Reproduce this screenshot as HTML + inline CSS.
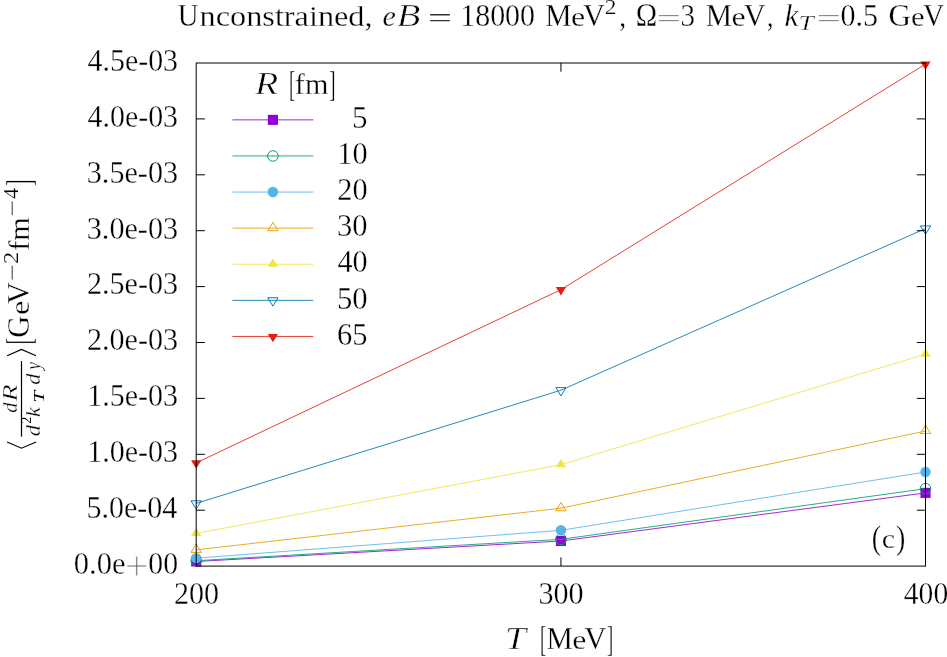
<!DOCTYPE html>
<html lang="en">
<head>
<meta charset="utf-8">
<title>Unconstrained, eB = 18000 MeV^2 - photon rate vs T</title>
<style>
html,body{margin:0;padding:0;background:#fff;}
body{width:947px;height:657px;overflow:hidden;}
svg{display:block;}
svg text{font-family:"Liberation Serif",serif;font-kerning:none;white-space:pre;}
.t{opacity:0.999;}
</style>
</head>
<body>
<svg width="947" height="657" viewBox="0 0 947 657">
<rect width="947" height="657" fill="#fff"/>
<g>
<path d="M232.40 119.85H313.30" stroke="#9400d3" stroke-width="0.85" fill="none"/>
<rect x="267.85" y="114.80" width="10.10" height="10.10" fill="#9400d3"/>
<polyline points="196.20,561.50 560.95,541.00 925.50,492.90" stroke="#9400d3" stroke-width="0.85" fill="none" stroke-linejoin="round"/>
<rect x="191.15" y="556.45" width="10.10" height="10.10" fill="#9400d3"/>
<rect x="555.90" y="535.95" width="10.10" height="10.10" fill="#9400d3"/>
<rect x="920.45" y="487.85" width="10.10" height="10.10" fill="#9400d3"/>
</g>
<g>
<path d="M232.40 155.95H313.30" stroke="#009e73" stroke-width="0.85" fill="none"/>
<circle cx="272.90" cy="155.95" r="5.30" fill="none" stroke="#009e73" stroke-width="1.00"/><circle cx="272.90" cy="155.95" r="0.45" fill="#009e73"/>
<polyline points="196.20,560.70 560.95,539.30 925.50,488.70" stroke="#009e73" stroke-width="0.85" fill="none" stroke-linejoin="round"/>
<circle cx="196.20" cy="560.70" r="5.30" fill="none" stroke="#009e73" stroke-width="1.00"/><circle cx="196.20" cy="560.70" r="0.45" fill="#009e73"/>
<circle cx="560.95" cy="539.30" r="5.30" fill="none" stroke="#009e73" stroke-width="1.00"/><circle cx="560.95" cy="539.30" r="0.45" fill="#009e73"/>
<circle cx="925.50" cy="488.70" r="5.30" fill="none" stroke="#009e73" stroke-width="1.00"/><circle cx="925.50" cy="488.70" r="0.45" fill="#009e73"/>
</g>
<g>
<path d="M232.40 192.05H313.30" stroke="#56b4e9" stroke-width="0.85" fill="none"/>
<circle cx="272.90" cy="192.05" r="5.25" fill="#56b4e9"/>
<polyline points="196.20,558.15 560.95,530.30 925.50,472.00" stroke="#56b4e9" stroke-width="0.85" fill="none" stroke-linejoin="round"/>
<circle cx="196.20" cy="558.15" r="5.25" fill="#56b4e9"/>
<circle cx="560.95" cy="530.30" r="5.25" fill="#56b4e9"/>
<circle cx="925.50" cy="472.00" r="5.25" fill="#56b4e9"/>
</g>
<g>
<path d="M232.40 228.15H313.30" stroke="#e69f00" stroke-width="0.85" fill="none"/>
<polygon points="272.90,222.38 267.75,230.72 278.05,230.72" fill="none" stroke="#e69f00" stroke-width="0.95" stroke-linejoin="miter"/><circle cx="272.90" cy="228.15" r="0.45" fill="#e69f00"/>
<polyline points="196.20,549.85 560.95,508.20 925.50,431.00" stroke="#e69f00" stroke-width="0.85" fill="none" stroke-linejoin="round"/>
<polygon points="196.20,544.08 191.05,552.43 201.35,552.43" fill="none" stroke="#e69f00" stroke-width="0.95" stroke-linejoin="miter"/><circle cx="196.20" cy="549.85" r="0.45" fill="#e69f00"/>
<polygon points="560.95,502.43 555.80,510.77 566.10,510.77" fill="none" stroke="#e69f00" stroke-width="0.95" stroke-linejoin="miter"/><circle cx="560.95" cy="508.20" r="0.45" fill="#e69f00"/>
<polygon points="925.50,425.23 920.35,433.57 930.65,433.57" fill="none" stroke="#e69f00" stroke-width="0.95" stroke-linejoin="miter"/><circle cx="925.50" cy="431.00" r="0.45" fill="#e69f00"/>
</g>
<g>
<path d="M232.40 264.25H313.30" stroke="#f0e442" stroke-width="0.85" fill="none"/>
<polygon points="272.90,258.48 267.75,266.82 278.05,266.82" fill="#f0e442"/>
<polyline points="196.20,533.40 560.95,464.70 925.50,354.20" stroke="#f0e442" stroke-width="0.85" fill="none" stroke-linejoin="round"/>
<polygon points="196.20,527.63 191.05,535.98 201.35,535.98" fill="#f0e442"/>
<polygon points="560.95,458.93 555.80,467.27 566.10,467.27" fill="#f0e442"/>
<polygon points="925.50,348.43 920.35,356.77 930.65,356.77" fill="#f0e442"/>
</g>
<g>
<path d="M232.40 300.35H313.30" stroke="#0072b2" stroke-width="0.85" fill="none"/>
<polygon points="272.90,306.12 267.75,297.78 278.05,297.78" fill="none" stroke="#0072b2" stroke-width="0.95" stroke-linejoin="miter"/><circle cx="272.90" cy="300.35" r="0.45" fill="#0072b2"/>
<polyline points="196.20,503.40 560.95,390.20 925.50,228.50" stroke="#0072b2" stroke-width="0.85" fill="none" stroke-linejoin="round"/>
<polygon points="196.20,509.17 191.05,500.82 201.35,500.82" fill="none" stroke="#0072b2" stroke-width="0.95" stroke-linejoin="miter"/><circle cx="196.20" cy="503.40" r="0.45" fill="#0072b2"/>
<polygon points="560.95,395.97 555.80,387.62 566.10,387.62" fill="none" stroke="#0072b2" stroke-width="0.95" stroke-linejoin="miter"/><circle cx="560.95" cy="390.20" r="0.45" fill="#0072b2"/>
<polygon points="925.50,234.27 920.35,225.93 930.65,225.93" fill="none" stroke="#0072b2" stroke-width="0.95" stroke-linejoin="miter"/><circle cx="925.50" cy="228.50" r="0.45" fill="#0072b2"/>
</g>
<g>
<path d="M232.40 336.45H313.30" stroke="#e51e10" stroke-width="0.85" fill="none"/>
<polygon points="272.90,342.22 267.75,333.88 278.05,333.88" fill="#e51e10"/>
<polyline points="196.20,462.90 560.95,289.65 925.50,64.10" stroke="#e51e10" stroke-width="0.85" fill="none" stroke-linejoin="round"/>
<polygon points="196.20,468.67 191.05,460.32 201.35,460.32" fill="#e51e10"/>
<polygon points="560.95,295.42 555.80,287.07 566.10,287.07" fill="#e51e10"/>
<polygon points="925.50,69.87 920.35,61.52 930.65,61.52" fill="#e51e10"/>
</g>
<g stroke="#000" stroke-width="1.00" fill="none" stroke-linecap="butt" stroke-linejoin="miter">
<rect x="196.20" y="63.00" width="729.30" height="503.10"/>
<path d="M196.20 510.20h8.70M925.50 510.20h-8.70M196.20 454.30h8.70M925.50 454.30h-8.70M196.20 398.40h8.70M925.50 398.40h-8.70M196.20 342.50h8.70M925.50 342.50h-8.70M196.20 286.60h8.70M925.50 286.60h-8.70M196.20 230.70h8.70M925.50 230.70h-8.70M196.20 174.80h8.70M925.50 174.80h-8.70M196.20 118.90h8.70M925.50 118.90h-8.70M560.95 566.10v-8.70M560.95 63.00v8.70"/>
</g>
<g class="t">
<text transform="translate(177.69 25.90) scale(0.9641 1.0400)" font-size="29.89" stroke="#fff" stroke-width="0.30">U</text>
<text transform="translate(199.56 25.90) scale(1.0804 0.9750)" font-size="29.89" stroke="#fff" stroke-width="0.30">nconstrained,</text>
<text transform="translate(382.47 25.90) scale(1.0106 1.0000)" font-size="29.89" font-style="italic" stroke="#fff" stroke-width="0.30">e</text>
<text transform="translate(396.64 25.90) scale(1.2930 1.0400)" font-size="29.89" font-style="italic" stroke="#fff" stroke-width="0.55">B</text>
<text transform="translate(427.98 27.35) scale(1.4236 0.8966)" font-size="29.89" fill="#333">=</text>
<text transform="translate(460.27 25.90) scale(1.0006 1.0350)" font-size="29.89" stroke="#fff" stroke-width="0.30">18000</text>
<text transform="translate(545.25 25.90) scale(0.9903 1.0400)" font-size="29.89" stroke="#fff" stroke-width="0.30">M</text>
<text transform="translate(570.95 25.90) scale(1.0666 0.9450)" font-size="29.89" stroke="#fff" stroke-width="0.30">e</text>
<text transform="translate(583.06 25.90) scale(1.0184 1.0400)" font-size="29.89" stroke="#fff" stroke-width="0.30">V</text>
<text transform="translate(604.87 14.30) scale(1.1207 1.0400)" font-size="20.92" stroke="#fff" stroke-width="0.20">2</text>
<text transform="translate(619.15 25.90) scale(0.9211 1.0400)" font-size="29.89" stroke="#fff" stroke-width="0.30">,</text>
<text transform="translate(635.81 25.90) scale(0.9624 1.1000)" font-size="29.89" stroke="#fff" stroke-width="0.30">Ω</text>
<text transform="translate(656.43 27.38) scale(1.4595 0.8699)" font-size="29.89" stroke="#fff" stroke-width="0.50" fill="#555">=</text>
<text transform="translate(680.61 25.90) scale(0.9719 1.0350)" font-size="29.89" stroke="#fff" stroke-width="0.30">3</text>
<text transform="translate(705.85 25.90) scale(0.9903 1.0400)" font-size="29.89" stroke="#fff" stroke-width="0.30">M</text>
<text transform="translate(731.55 25.90) scale(1.0666 0.9450)" font-size="29.89" stroke="#fff" stroke-width="0.30">e</text>
<text transform="translate(743.66 25.90) scale(1.0137 1.0400)" font-size="29.89" stroke="#fff" stroke-width="0.30">V</text>
<text transform="translate(767.03 25.90) scale(0.8537 1.0400)" font-size="29.89" stroke="#fff" stroke-width="0.30">,</text>
<text transform="translate(784.39 25.90) scale(1.0511 1.0400)" font-size="29.89" font-style="italic" stroke="#fff" stroke-width="0.30">k</text>
<text transform="translate(798.51 29.80) scale(1.3039 1.0400)" font-size="20.92" font-style="italic" stroke="#fff" stroke-width="0.40">T</text>
<text transform="translate(816.43 27.38) scale(1.4595 0.8699)" font-size="29.89" stroke="#fff" stroke-width="0.50" fill="#555">=</text>
<text transform="translate(840.45 25.90) scale(1.0069 1.0350)" font-size="29.89" stroke="#fff" stroke-width="0.30">0.5</text>
<text transform="translate(888.53 25.90) scale(1.0399 1.0400)" font-size="29.89" stroke="#fff" stroke-width="0.30">G</text>
<text transform="translate(911.11 25.90) scale(1.0214 0.9450)" font-size="29.89" stroke="#fff" stroke-width="0.30">e</text>
<text transform="translate(922.97 25.90) scale(0.9850 1.0400)" font-size="29.89" stroke="#fff" stroke-width="0.30">V</text>
<text transform="translate(73.84 573.90) scale(1.0216 1.0350)" font-size="29.89" stroke="#fff" stroke-width="0.30">0.0e</text>
<text transform="translate(124.77 579.89) scale(1.4308 1.3790)" font-size="29.89" stroke="#fff" stroke-width="0.75" fill="#555">+</text>
<text transform="translate(148.27 573.90) scale(0.9959 1.0350)" font-size="29.89" stroke="#fff" stroke-width="0.30">00</text>
<text transform="translate(86.45 518.00) scale(1.0049 1.0350)" font-size="29.89" stroke="#fff" stroke-width="0.30">5.0e-04</text>
<text transform="translate(87.26 462.10) scale(1.0037 1.0350)" font-size="29.89" stroke="#fff" stroke-width="0.30">1.0e-03</text>
<text transform="translate(87.26 406.20) scale(1.0037 1.0350)" font-size="29.89" stroke="#fff" stroke-width="0.30">1.5e-03</text>
<text transform="translate(86.88 350.30) scale(1.0081 1.0350)" font-size="29.89" stroke="#fff" stroke-width="0.30">2.0e-03</text>
<text transform="translate(86.88 294.40) scale(1.0081 1.0350)" font-size="29.89" stroke="#fff" stroke-width="0.30">2.5e-03</text>
<text transform="translate(86.76 238.50) scale(1.0094 1.0350)" font-size="29.89" stroke="#fff" stroke-width="0.30">3.0e-03</text>
<text transform="translate(86.76 182.60) scale(1.0094 1.0350)" font-size="29.89" stroke="#fff" stroke-width="0.30">3.5e-03</text>
<text transform="translate(87.62 126.70) scale(0.9998 1.0350)" font-size="29.89" stroke="#fff" stroke-width="0.30">4.0e-03</text>
<text transform="translate(87.62 70.80) scale(0.9998 1.0350)" font-size="29.89" stroke="#fff" stroke-width="0.30">4.5e-03</text>
<text transform="translate(173.88 604.20) scale(1.0075 1.0350)" font-size="29.89" stroke="#fff" stroke-width="0.30">200</text>
<text transform="translate(538.46 604.20) scale(1.0079 1.0350)" font-size="29.89" stroke="#fff" stroke-width="0.30">300</text>
<text transform="translate(903.82 604.20) scale(0.9904 1.0350)" font-size="29.89" stroke="#fff" stroke-width="0.30">400</text>
<text transform="translate(504.70 649.10) scale(1.2779 1.0500)" font-size="29.89" font-style="italic" stroke="#fff" stroke-width="0.55">T</text>
<text transform="translate(540.00 650.66) scale(0.6311 1.1844)" font-size="29.89" stroke="#fff" stroke-width="0.30">[</text>
<text transform="translate(546.44 649.10) scale(0.9944 1.0400)" font-size="29.89" stroke="#fff" stroke-width="0.30">M</text>
<text transform="translate(572.25 649.10) scale(1.0666 0.9450)" font-size="29.89" stroke="#fff" stroke-width="0.30">e</text>
<text transform="translate(584.25 649.10) scale(1.0280 1.0400)" font-size="29.89" stroke="#fff" stroke-width="0.30">V</text>
<text transform="translate(606.92 650.66) scale(0.6311 1.1844)" font-size="29.89" stroke="#fff" stroke-width="0.30">]</text>
<text transform="translate(871.67 548.55) scale(0.9379 1.0922)" font-size="29.89" stroke="#fff" stroke-width="0.30">(</text>
<text transform="translate(881.85 548.40) scale(1.0081 0.9450)" font-size="29.89" stroke="#fff" stroke-width="0.30">c</text>
<text transform="translate(896.00 548.55) scale(0.9379 1.0922)" font-size="29.89" stroke="#fff" stroke-width="0.30">)</text>
<text transform="translate(254.90 94.20) scale(1.2722 1.0700)" font-size="29.89" font-style="italic" stroke="#fff" stroke-width="0.55">R</text>
<text transform="translate(288.90 96.36) scale(0.6311 1.1844)" font-size="29.89" stroke="#fff" stroke-width="0.30">[</text>
<text transform="translate(294.87 93.90) scale(1.0089 0.9900)" font-size="29.89" stroke="#fff" stroke-width="0.30">fm</text>
<text transform="translate(329.32 96.36) scale(0.6311 1.1844)" font-size="29.89" stroke="#fff" stroke-width="0.30">]</text>
<text transform="translate(352.10 128.05) scale(1.0381 1.0350)" font-size="29.89" stroke="#fff" stroke-width="0.30">5</text>
<text transform="translate(337.24 164.15) scale(1.0144 1.0350)" font-size="29.89" stroke="#fff" stroke-width="0.30">10</text>
<text transform="translate(337.27 200.25) scale(1.0132 1.0350)" font-size="29.89" stroke="#fff" stroke-width="0.30">20</text>
<text transform="translate(337.04 236.35) scale(1.0212 1.0350)" font-size="29.89" stroke="#fff" stroke-width="0.30">30</text>
<text transform="translate(337.41 272.45) scale(1.0082 1.0350)" font-size="29.89" stroke="#fff" stroke-width="0.30">40</text>
<text transform="translate(336.92 308.55) scale(1.0254 1.0350)" font-size="29.89" stroke="#fff" stroke-width="0.30">50</text>
<text transform="translate(337.09 344.65) scale(1.0205 1.0350)" font-size="29.89" stroke="#fff" stroke-width="0.30">65</text>
<g transform="rotate(-90)">
<text transform="translate(-412.82 17.20) scale(0.9717 1.0400)" font-size="20.92" font-style="italic" stroke="#fff" stroke-width="0.25">d</text>
<text transform="translate(-401.55 17.20) scale(1.3471 1.0400)" font-size="20.92" font-style="italic" stroke="#fff" stroke-width="0.40">R</text>
<text transform="translate(-436.18 40.00) scale(1.0730 1.0400)" font-size="20.92" font-style="italic" stroke="#fff" stroke-width="0.25">d</text>
<text transform="translate(-423.81 31.00) scale(0.9347 1.0400)" font-size="14.95">2</text>
<text transform="translate(-416.94 40.00) scale(1.0678 1.0400)" font-size="20.92" font-style="italic" stroke="#fff" stroke-width="0.25">k</text>
<text transform="translate(-402.72 43.60) scale(1.4482 1.0400)" font-size="14.95" font-style="italic">T</text>
<text transform="translate(-384.77 40.00) scale(1.0628 1.0400)" font-size="20.92" font-style="italic" stroke="#fff" stroke-width="0.25">d</text>
<text transform="translate(-369.84 40.00) scale(0.8330 1.0400)" font-size="20.92" font-style="italic" stroke="#fff" stroke-width="0.25">y</text>
<text transform="translate(-344.47 31.47) scale(0.6611 1.2087)" font-size="29.89" stroke="#fff" stroke-width="0.30">[</text>
<text transform="translate(-337.65 29.00) scale(1.0193 1.0400)" font-size="29.89" stroke="#fff" stroke-width="0.30">G</text>
<text transform="translate(-315.07 29.00) scale(1.0847 0.9450)" font-size="29.89" stroke="#fff" stroke-width="0.30">e</text>
<text transform="translate(-304.04 29.00) scale(1.0137 1.0400)" font-size="29.89" stroke="#fff" stroke-width="0.30">V</text>
<text transform="translate(-281.09 20.20) scale(1.4277 1.1516)" font-size="20.92" stroke="#fff" stroke-width="0.20">−</text>
<text transform="translate(-263.89 17.70) scale(1.1803 1.0350)" font-size="20.92" stroke="#fff" stroke-width="0.20">2</text>
<text transform="translate(-250.73 29.00) scale(1.0089 0.9900)" font-size="29.89" stroke="#fff" stroke-width="0.30">fm</text>
<text transform="translate(-216.39 20.20) scale(1.4277 1.1516)" font-size="20.92" stroke="#fff" stroke-width="0.20">−</text>
<text transform="translate(-198.93 17.70) scale(1.0590 1.0350)" font-size="20.92" stroke="#fff" stroke-width="0.20">4</text>
<text transform="translate(-186.01 31.47) scale(0.6611 1.2087)" font-size="29.89" stroke="#fff" stroke-width="0.30">]</text>
</g>
</g>
<path d="M21.5 436.6V361" stroke="#000" stroke-width="1.2" fill="none"/>
<polyline points="7.1,442.0 21.5,448.2 36.1,442.0" stroke="#000" stroke-width="1.2" fill="none"/>
<polyline points="7.1,355.8 21.5,349.4 36.1,355.8" stroke="#000" stroke-width="1.2" fill="none"/>
</svg>
</body>
</html>
